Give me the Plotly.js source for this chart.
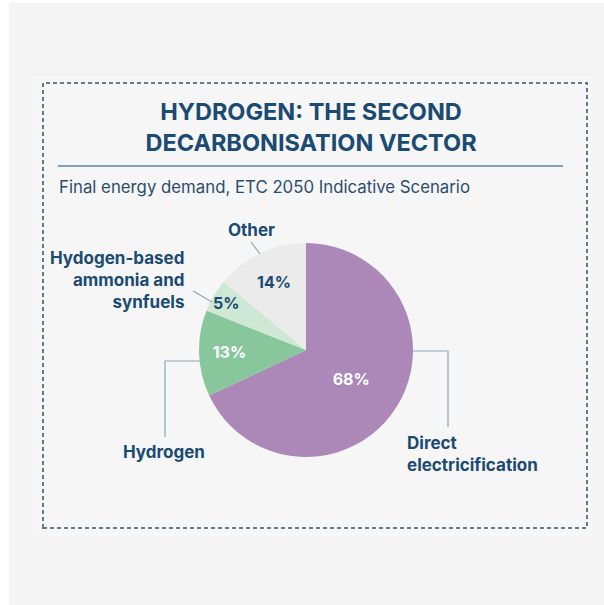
<!DOCTYPE html>
<html>
<head>
<meta charset="utf-8">
<script src="https://cdn.plot.ly/plotly-3.0.1.min.js"></script>
<style>
  body { margin: 0; background: #ffffff; }
  #chart { width: 604px; height: 605px; }
</style>
</head>
<body>
<div id="chart"></div>
<script>
const labels = ["Direct electrification", "Hydrogen", "Hydogen-based ammonia and synfuels", "Other"];
const shares = [68, 13, 5, 14];
const sliceColors = ["#ab88b7", "#88c79b", "#cfe8d5", "#ebebeb"];
const labelTextColors = ["#ffffff", "#ffffff", "#1b4a72", "#1b4a72"];

const W = 604, H = 605;
const navy = "#1b4a72";
const leader = "#8aa7bd";

// pixel -> paper helpers
function px(x) { return x / W; }
function py(y) { return 1 - y / H; }
function line(x0, y0, x1, y1, color, width, dash) {
    return {type: "line", xref: "paper", yref: "paper",
        x0: px(x0), y0: py(y0), x1: px(x1), y1: py(y1),
        line: {color: color, width: width, dash: dash || "solid"}};
}
function path(pts, color, width) {
    let d = pts.map((p, i) => (i == 0 ? "M " : "L ") + px(p[0]) + "," + py(p[1])).join(" ");
    return {type: "path", xref: "paper", yref: "paper", path: d, line: {color: color, width: width}};
}
function note(text, x, y, xanchor, yanchor, size, weight, color, align) {
    return {text: text, xref: "paper", yref: "paper", x: px(x), y: py(y),
        xanchor: xanchor, yanchor: yanchor, showarrow: false, align: align || "center",
        font: {family: "Inter, 'Open Sans', sans-serif", size: size, weight: weight, color: color}};
}

let cx = 306, cy = 350, r = 107;

let data = [{
    type: "pie",
    labels: labels,
    values: shares,
    sort: false,
    direction: "clockwise",
    rotation: 0,
    hole: 0,
    domain: {x: [px(cx - r), px(cx + r)], y: [py(cy + r), py(cy - r)]},
    marker: {colors: sliceColors, line: {width: 0}},
    texttemplate: "%{value}%",
    textposition: "inside",
    insidetextorientation: "horizontal",
    insidetextfont: {family: "Inter, sans-serif", size: 16, weight: 700, color: labelTextColors},
    hoverinfo: "skip",
    showlegend: false
}];

let layout = {
    width: W,
    height: H,
    margin: {l: 0, r: 0, t: 0, b: 0},
    paper_bgcolor: "#ffffff",
    showlegend: false,
    uniformtext: {minsize: 16, mode: "show"},
    title: {
        text: "HYDROGEN: THE SECOND<br>DECARBONISATION VECTOR",
        x: px(311), xanchor: "center",
        y: py(120), yanchor: "middle",
        font: {family: "Inter, sans-serif", size: 23.5, weight: 700, color: navy}
    },
    shapes: [
        {type: "rect", xref: "paper", yref: "paper", layer: "below",
            x0: px(9), y0: py(605), x1: px(604), y1: py(3),
            fillcolor: "#f4f4f4", line: {width: 0}},
        {type: "rect", xref: "paper", yref: "paper", layer: "below",
            x0: px(30), y0: py(536), x1: px(592), y1: py(76),
            fillcolor: "#f6f6f6", line: {width: 0}},
        {type: "rect", xref: "paper", yref: "paper",
            x0: px(43), y0: py(528), x1: px(587), y1: py(83),
            line: {color: "#66798c", width: 2, dash: "4px,3px"}},
        line(58, 166, 563, 166, "#7fa2bc", 2),
        line(251, 242, 260, 254, leader, 1.2),
        line(193, 291, 212, 302, leader, 1.2),
        path([[200, 361], [165, 361], [165, 437]], leader, 1.2),
        path([[412, 351], [448, 351], [448, 427]], leader, 1.2)
    ],
    annotations: [
        note("Final energy demand, ETC 2050 Indicative Scenario", 57, 187, "left", "middle", 16.8, 400, "#2b4d6c", "left"),
        note("Other", 251, 230, "center", "middle", 17, 700, navy),
        note("Hydogen-based<br>ammonia and<br>synfuels", 186, 280, "right", "middle", 17, 700, navy, "right"),
        note("Hydrogen", 164, 452, "center", "middle", 17, 700, navy),
        note("Direct<br>electricification", 405, 454, "left", "middle", 17, 700, navy, "left")
    ]
};

Plotly.newPlot("chart", data, layout, {displayModeBar: false, staticPlot: true});
</script>
</body>
</html>
